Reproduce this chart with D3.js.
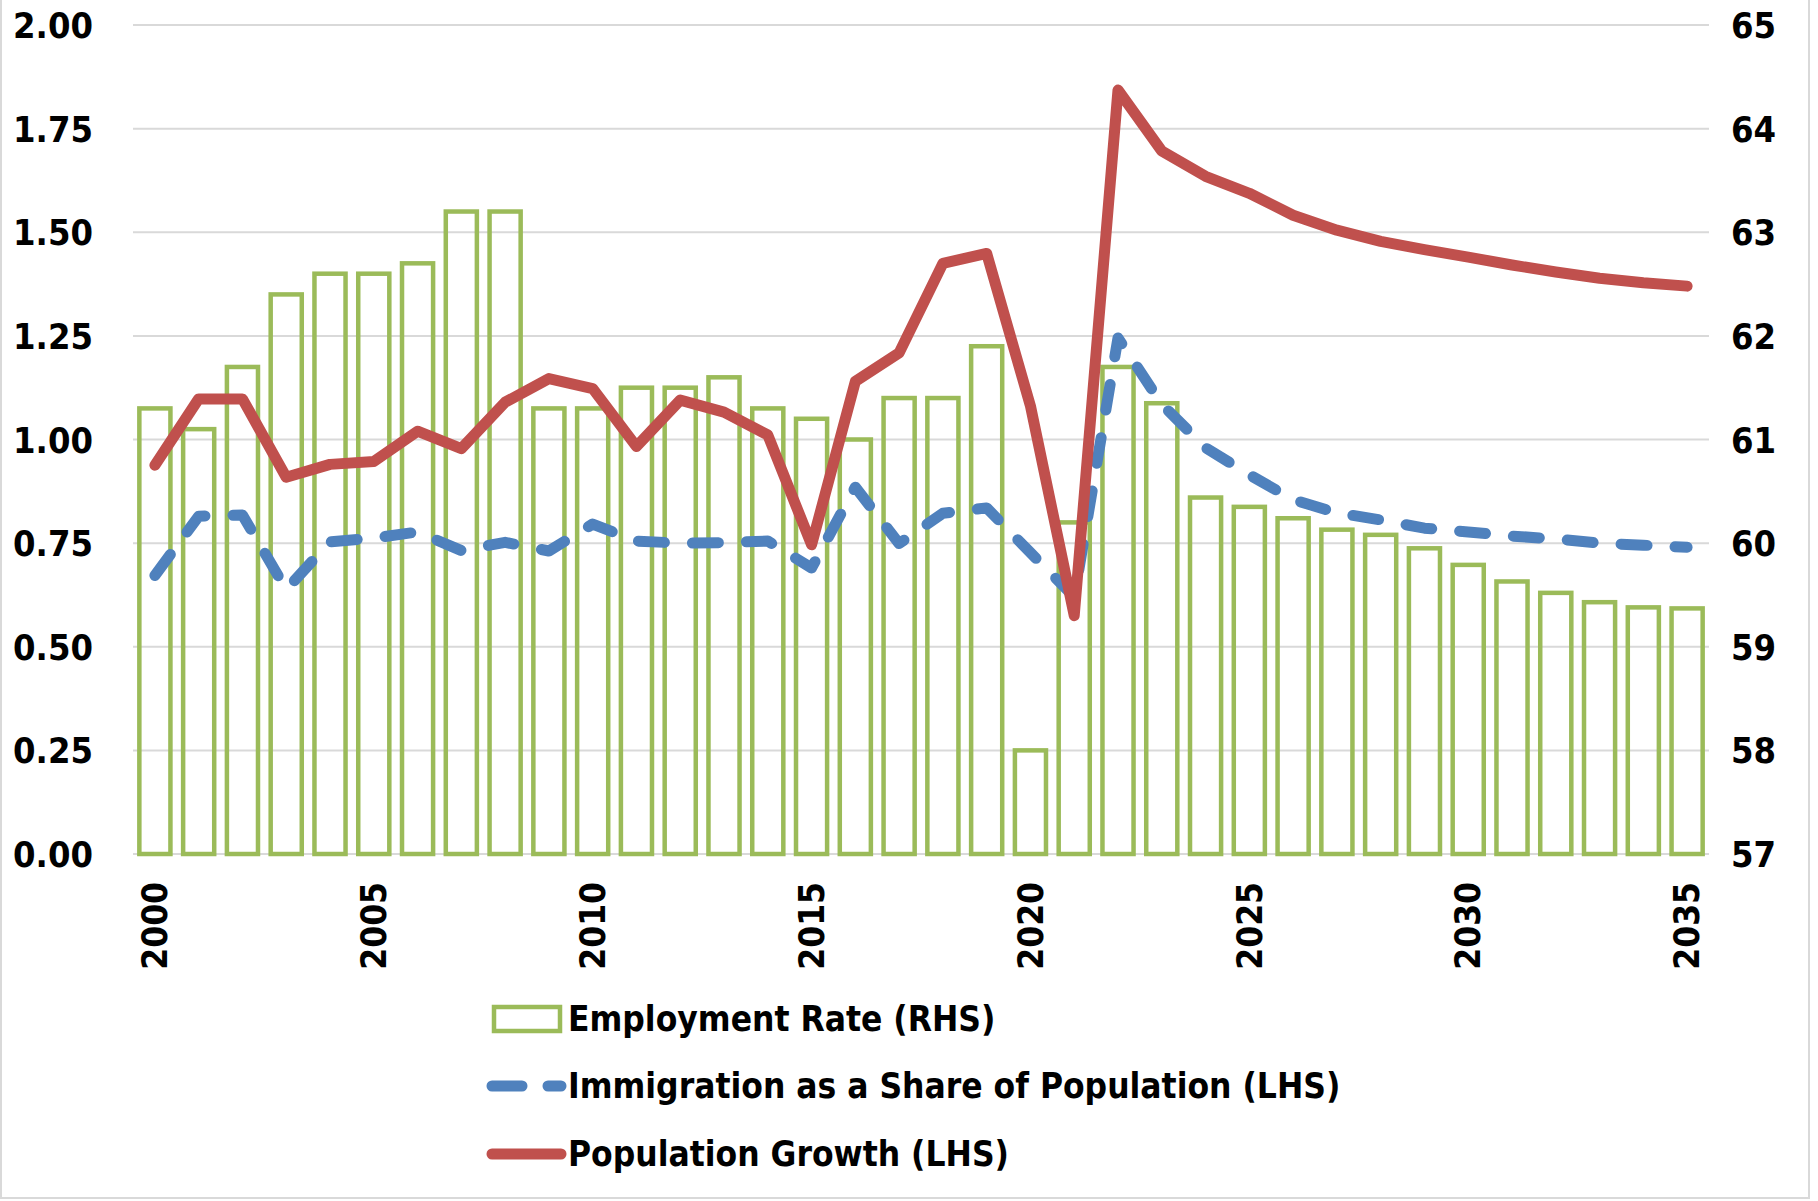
<!DOCTYPE html>
<head>
  <meta charset="utf-8">
  <title>Employment, immigration and population growth</title>
  <script src="https://cdn.jsdelivr.net/npm/d3@7"></script>
  <style>
    body { margin: 0; background: #fff; }
    text {
      font-family: "Liberation Sans Narrow", "DejaVu Sans Condensed", "Noto Sans", sans-serif;
      font-weight: bold;
      fill: #000;
    }
  </style>
</head>
<body>
<script>
  var years = d3.range(2000, 2036);
  var yearTicks = [2000, 2005, 2010, 2015, 2020, 2025, 2030, 2035];
  var leftTicks = [0, 0.25, 0.5, 0.75, 1.0, 1.25, 1.5, 1.75, 2.0];
  var rightTicks = [57, 58, 59, 60, 61, 62, 63, 64, 65];

  // employment rate, right axis
  var employment = [61.3, 61.1, 61.7, 62.4, 62.6, 62.6, 62.7, 63.2, 63.2, 61.3,
                    61.3, 61.5, 61.5, 61.6, 61.3, 61.2, 61.0, 61.4, 61.4, 61.9,
                    58.0, 60.2, 61.7, 61.35, 60.44, 60.35, 60.24, 60.13, 60.08, 59.95,
                    59.79, 59.63, 59.52, 59.43, 59.38, 59.37];
  // immigration as a share of population, left axis
  var immigration = [0.672, 0.815, 0.818, 0.638, 0.753, 0.762, 0.777, 0.732, 0.752, 0.731,
                     0.796, 0.755, 0.75, 0.751, 0.755, 0.69, 0.885, 0.749, 0.822, 0.835,
                     0.727, 0.62, 1.245, 1.085, 0.98, 0.915, 0.855, 0.823, 0.806, 0.786,
                     0.777, 0.767, 0.76, 0.75, 0.745, 0.74];
  // population growth, left axis
  var popGrowth = [0.938, 1.098, 1.098, 0.909, 0.94, 0.947, 1.02, 0.978, 1.09, 1.147,
                   1.123, 0.983, 1.095, 1.066, 1.011, 0.746, 1.14, 1.209, 1.425, 1.449,
                   1.081, 0.575, 1.843, 1.696, 1.635, 1.594, 1.541, 1.505, 1.478, 1.458,
                   1.44, 1.421, 1.404, 1.389, 1.378, 1.37];

  var legendItems = ["Employment Rate (RHS)", "Immigration as a Share of Population (LHS)", "Population Growth (LHS)"];

  var W = 1818, H = 1201;
  var plotL = 133, plotR = 1709, plotT = 25, plotB = 854;
  var fontPx = "35px";

  var svg = d3.select("body").append("svg")
      .attr("width", W)
      .attr("height", H);

  // chart border
  svg.append("rect")
      .attr("x", 1).attr("y", -2)
      .attr("width", 1808).attr("height", 1200)
      .attr("fill", "none")
      .attr("stroke", "#d9d9d9")
      .attr("stroke-width", 2);

  var x = d3.scaleBand().domain(years).range([plotL, plotR]).paddingInner(0.29).paddingOuter(0.145);
  var yL = d3.scaleLinear().domain([0, 2]).range([plotB, plotT]);
  var yR = d3.scaleLinear().domain([57, 65]).range([plotB, plotT]);
  var cx = d => x(d) + x.bandwidth() / 2;

  // gridlines
  svg.append("g")
    .selectAll("line")
    .data(leftTicks)
    .enter()
    .append("line")
      .attr("x1", plotL).attr("x2", plotR)
      .attr("y1", d => yL(d)).attr("y2", d => yL(d))
      .style("stroke", "#d9d9d9")
      .style("stroke-width", 2);

  // axes
  var axL = svg.append("g")
      .attr("transform", "translate(" + (plotL - 40) + ",0)")
      .call(d3.axisLeft(yL).tickValues(leftTicks).tickFormat(d3.format(".2f")).tickSize(0).tickPadding(0));
  var axR = svg.append("g")
      .attr("transform", "translate(" + (plotR + 22) + ",0)")
      .call(d3.axisRight(yR).tickValues(rightTicks).tickFormat(d3.format("d")).tickSize(0).tickPadding(0));
  [axL, axR].forEach(function(ax) {
    ax.select(".domain").remove();
    ax.selectAll("text")
      .attr("dy", "0.35em")
      .style("font-size", "36px")
      .style("font-family", null);
  });

  var axB = svg.append("g")
      .attr("transform", "translate(0," + plotB + ")")
      .call(d3.axisBottom(x).tickValues(yearTicks).tickSize(0).tickPadding(0));
  axB.select(".domain").remove();
  axB.selectAll("text")
      .attr("transform", "translate(0,28) rotate(-90)")
      .attr("text-anchor", "end")
      .attr("dy", "0.35em")
      .attr("y", 0)
      .style("font-size", fontPx)
      .style("font-family", null);

  // bars
  svg.append("g")
    .selectAll("rect")
    .data(years)
    .enter()
    .append("rect")
      .attr("x", d => x(d))
      .attr("width", x.bandwidth())
      .attr("y", (d, i) => yR(employment[i]))
      .attr("height", (d, i) => plotB - yR(employment[i]))
      .attr("fill", "none")
      .attr("stroke", "#9bbb59")
      .attr("stroke-width", 4.5);

  var line = d3.line().x(d => cx(d[0])).y(d => yL(d[1]));

  svg.append("path")
      .datum(years.map((d, i) => [d, immigration[i]]))
      .attr("d", line)
      .attr("fill", "none")
      .attr("stroke", "#4f81bd")
      .attr("stroke-width", 11)
      .attr("stroke-linecap", "round")
      .attr("stroke-linejoin", "round")
      .attr("stroke-dasharray", "26,28");

  svg.append("path")
      .datum(years.map((d, i) => [d, popGrowth[i]]))
      .attr("d", line)
      .attr("fill", "none")
      .attr("stroke", "#c0504d")
      .attr("stroke-width", 11)
      .attr("stroke-linecap", "round")
      .attr("stroke-linejoin", "round");

  // legend
  var lg = svg.append("g");
  var rowY = [1019, 1086, 1154];
  lg.append("rect")
      .attr("x", 494).attr("y", rowY[0] - 12)
      .attr("width", 66).attr("height", 24)
      .attr("fill", "none")
      .attr("stroke", "#9bbb59")
      .attr("stroke-width", 4.5);
  lg.append("line")
      .attr("x1", 492).attr("x2", 561)
      .attr("y1", rowY[1]).attr("y2", rowY[1])
      .attr("stroke", "#4f81bd")
      .attr("stroke-width", 11)
      .attr("stroke-linecap", "round")
      .attr("stroke-dasharray", "30,26");
  lg.append("line")
      .attr("x1", 492).attr("x2", 561)
      .attr("y1", rowY[2]).attr("y2", rowY[2])
      .attr("stroke", "#c0504d")
      .attr("stroke-width", 11)
      .attr("stroke-linecap", "round");
  lg.selectAll("text")
    .data(legendItems)
    .enter()
    .append("text")
      .attr("x", 568)
      .attr("y", (d, i) => rowY[i])
      .attr("dy", "0.35em")
      .style("font-size", fontPx)
      .text(d => d);
</script>
</body>
